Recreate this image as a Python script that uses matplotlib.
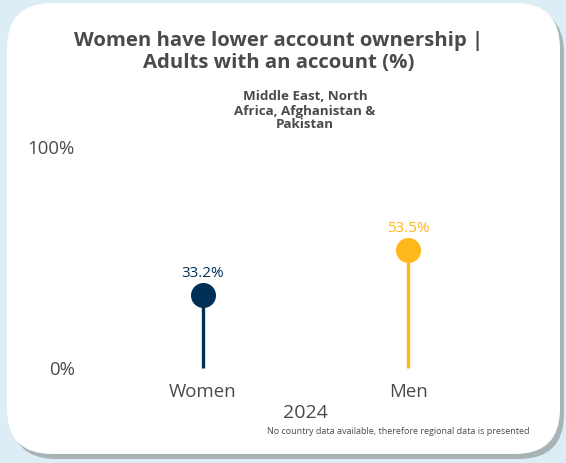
import matplotlib
matplotlib.use("Agg")
import matplotlib.pyplot as plt
from matplotlib.patches import FancyBboxPatch

categories = ["Women", "Men"]
values = [33.2, 53.5]
colors = ["#002f56", "#ffb81c"]
value_labels = ["33.2%", "53.5%"]
ytick_vals = [0, 100]
ytick_labels = ["0%", "100%"]
year = "2024"
title = "Women have lower account ownership |\nAdults with an account (%)"
subtitle = "Middle East, North\nAfrica, Afghanistan &\nPakistan"
note = "No country data available, therefore regional data is presented"

plt.rcParams['font.family'] = ['Open Sans', 'DejaVu Sans']

W, H = 566, 463
fig = plt.figure(figsize=(W / 100, H / 100), dpi=100)
fig.patch.set_facecolor("#dcedf5")

bg = fig.add_axes([0, 0, 1, 1])
bg.set_xlim(0, W)
bg.set_ylim(H, 0)
bg.axis("off")
r = 45
shadow = FancyBboxPatch((7 + 4 + r, 3 + 5 + r), 553 - 2 * r, 451 - 2 * r,
                        boxstyle=f"round,pad={r}", fc="#a9b3b6", ec="none")
card = FancyBboxPatch((7 + r, 3 + r), 553 - 2 * r, 451 - 2 * r,
                      boxstyle=f"round,pad={r}", fc="white", ec="none")
bg.add_patch(shadow)
bg.add_patch(card)

bg.text(279, 52, title, ha="center", va="center", fontsize=14.7,
        fontweight="bold", color="#4a4a4a", linespacing=1.08)
bg.text(305, 111, subtitle, ha="center", va="center", fontsize=9.6,
        fontweight="bold", color="#4a4a4a", linespacing=1.1)
bg.text(398, 432, note, ha="center", va="center", fontsize=6.5, color="#4a4a4a")

left_px, right_px = 100, 511
bot_px, top_px = 368, 147
ax = fig.add_axes([left_px / W, 1 - bot_px / H, (right_px - left_px) / W,
                   (bot_px - top_px) / H])
ax.patch.set_alpha(0)
xs = list(range(len(categories)))
for x, v, c, lab in zip(xs, values, colors, value_labels):
    ax.plot([x, x], [0, v], color=c, lw=2.4, solid_capstyle="butt", clip_on=False)
    ax.plot([x], [v], "o", ms=17, color=c, clip_on=False)
    ax.annotate(lab, (x, v), xytext=(0, 10), textcoords="offset points",
                ha="center", va="bottom", fontsize=11, color=c)
ax.set_xlim(-0.5, 1.5)
ax.set_ylim(0, 100)
ax.set_xticks(xs)
ax.set_xticklabels(categories, fontsize=13.4, color="#4a4a4a")
ax.set_yticks(ytick_vals)
ax.set_yticklabels(ytick_labels, fontsize=13.4, color="#4a4a4a")
ax.tick_params(axis="x", length=0, pad=11)
ax.tick_params(axis="y", length=0, pad=18)
ax.set_xlabel(year, fontsize=14, color="#4a4a4a", labelpad=2)
for s in ax.spines.values():
    s.set_visible(False)

fig.savefig("out.png", dpi=100, facecolor=fig.get_facecolor())
